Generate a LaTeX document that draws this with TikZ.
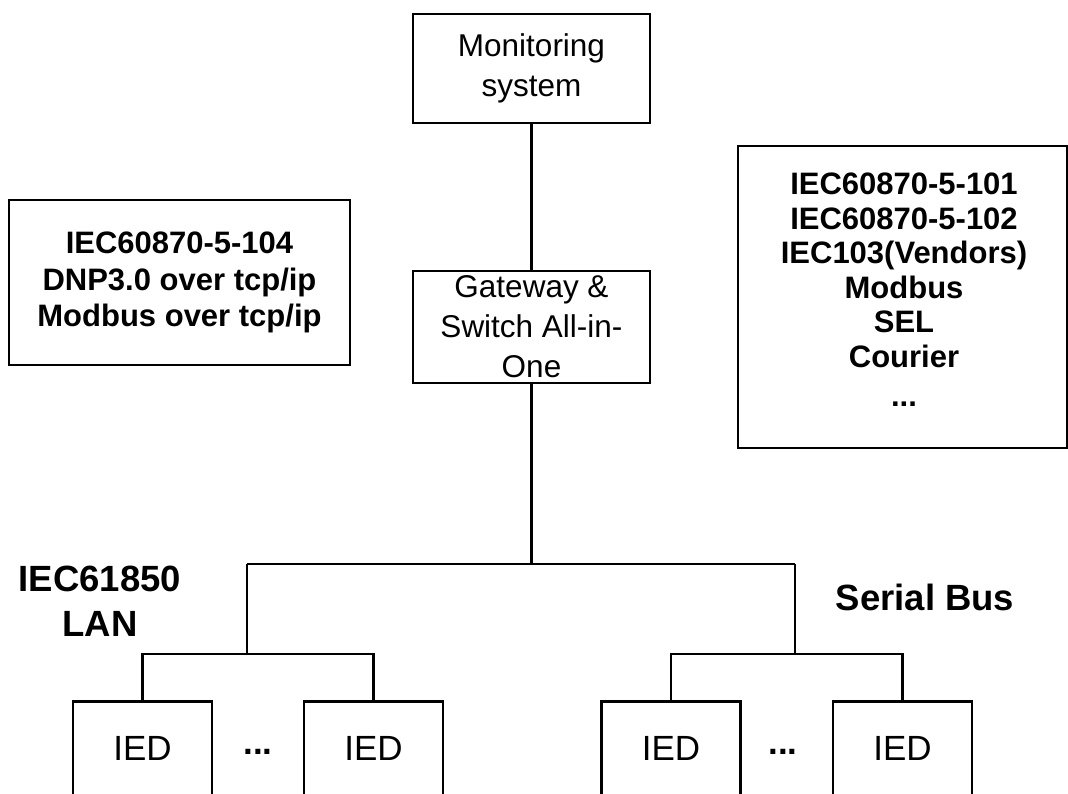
\documentclass[tikz,border=0pt]{standalone}
\usepackage{fontspec}
\setmainfont{Liberation Sans}
\usetikzlibrary{calc}
\tikzset{
  box/.style={draw, line width=2.6pt, rectangle, inner sep=0pt, align=center},
  regtext/.style={font=\fontsize{31.5}{40}\selectfont},
  iedbox/.style={box, minimum width=139pt, minimum height=140pt},
  conn/.style={line width=2.6pt},
  lbl/.style={font=\fontsize{36.5}{45}\selectfont\bfseries, align=center, inner sep=0pt},
  dotsl/.style={font=\fontsize{35}{40}\selectfont, inner sep=0pt, anchor=base}
}
\begin{document}
\begin{tikzpicture}[x=1pt,y=-1pt]
\clip (0,0) rectangle (1068,794);
\fill[white] (0,0) rectangle (1068,794);
% boxes
\node[box, regtext, minimum width=237pt, minimum height=109pt] (mon) at (531.5,68.5) {Monitoring\\system};
\node[box, regtext, minimum width=237pt, minimum height=112pt] (gw) at (531.5,327) {Gateway \&\\Switch All-in-\\One};
\node[box, minimum width=341pt, minimum height=165pt, font=\fontsize{31}{36.7}\selectfont\bfseries] (lp) at (179.5,282.5) {IEC60870-5-104\\DNP3.0 over tcp/ip\\Modbus over tcp/ip};
\node[box, minimum width=329pt, minimum height=302pt] (rp) at (902.5,297) {};
\node[font=\fontsize{31}{34.5}\selectfont\bfseries, align=center, inner sep=0pt] (rpt) at (904,290) {IEC60870-5-101\\IEC60870-5-102\\IEC103(Vendors)\\Modbus\\SEL\\Courier\\[5pt]...};
% IEDs (bottoms run off the page)
\node[iedbox, anchor=north] (ied1) at (142.5,700) {};
\node[iedbox, anchor=north] (ied2) at (373.5,700) {};
\node[iedbox, anchor=north] (ied3) at (671,700) {};
\node[iedbox, anchor=north] (ied4) at (902.5,700) {};
\node[dotsl] (t1) at ($(ied1.north)+(0,60)$) {IED};
\node[dotsl] (t2) at ($(ied2.north)+(0,60)$) {IED};
\node[dotsl] (t3) at ($(ied3.north)+(0,60)$) {IED};
\node[dotsl] (t4) at ($(ied4.north)+(0,60)$) {IED};
\node[dotsl] (d1) at (258,760) {\raisebox{6pt}{\bfseries ...}};
\node[dotsl] (d2) at (783,760) {\raisebox{6pt}{\bfseries ...}};
% labels
\node[lbl] (lan) at (100,601) {IEC61850\\LAN};
\node[lbl, anchor=base] (ser) at (925,610) {Serial Bus};
% connectors
\coordinate (hL) at (247,564);
\coordinate (hR) at (795,564);
\coordinate (bL) at (247,654);
\coordinate (bR) at (795,654);
\draw[conn] (mon) -- (gw);
\draw[conn] (gw.south) -- (gw.south |- hL);
\draw[conn] (hL) -- (hR);
\draw[conn] (hL) -- (bL);
\draw[conn] (hR) -- (bR);
\draw[conn] (ied1.north) |- (ied2.north |- bL) -- (ied2.north);
\draw[conn] (ied3.north) |- (ied4.north |- bR) -- (ied4.north);
\end{tikzpicture}
\end{document}
